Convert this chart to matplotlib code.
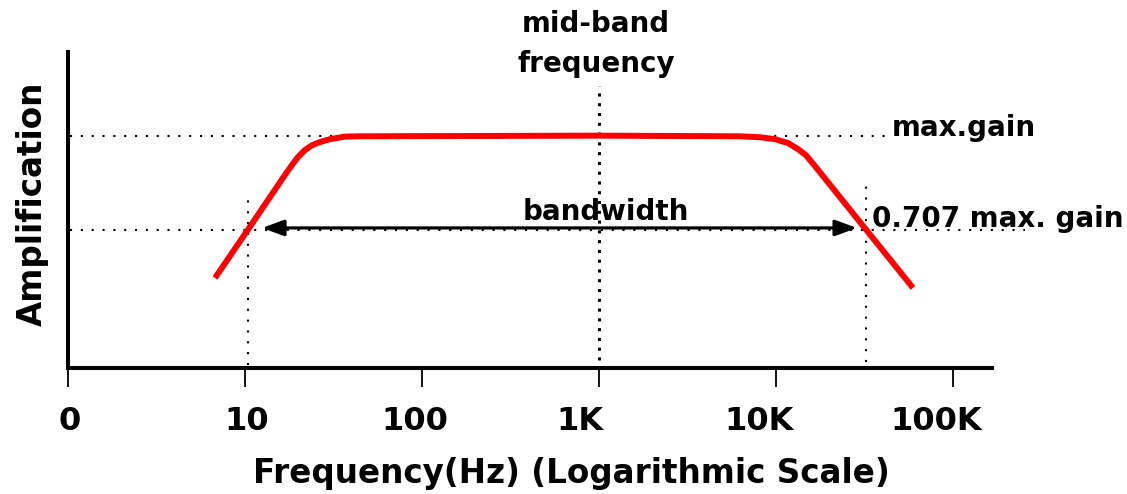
import numpy as np
import matplotlib.pyplot as plt
from matplotlib.ticker import NullLocator
from matplotlib.transforms import ScaledTranslation

# frequency response (Hz, gain relative to max)
freq_hz = [6.77, 10.4, 16.8, 18.4, 19.9, 21.8, 23.9, 26.5, 30.2, 36.7, 44.6,
           1000, 6262, 8122, 9864, 11690, 13310, 14770, 16610, 32250, 59430]
gain = [0.556, 0.707, 0.877, 0.908, 0.933, 0.955, 0.970, 0.980, 0.989, 0.997, 0.998,
        1.0, 0.998, 0.995, 0.989, 0.977, 0.958, 0.939, 0.905, 0.707, 0.525]

tick_freqs = [1, 10, 100, 1000, 10000, 100000]
tick_labels = ['0', '10', '100', '1K', '10K', '100K']
label_shift_px = [2, 2, -7, -19, -17, -17]

max_gain = 1.0
half_power = 0.707
mid_freq = 1000
low_cut = 10.4
high_cut = 32250

fig = plt.figure(figsize=(11.27, 4.94), dpi=100)
ax = fig.add_axes([68 / 1127, 126 / 494, 924 / 1127, 316 / 494])

ax.set_xscale('log')
ax.set_xlim(1, 166100)
ax.set_ylim(0.275, 1.261)

# guide lines
ax.plot([1.03, 44000], [max_gain, max_gain], color='black', lw=1.5,
        linestyle=(0, (1, 4.2)), clip_on=False)
ax.plot([1.03, 255000], [half_power, half_power], color='black', lw=1.5,
        linestyle=(0, (1, 4.2)), clip_on=False)
ax.plot([low_cut, low_cut], [0.285, 0.824], color='black', lw=1.5,
        linestyle=(0, (1, 4.2)))
ax.plot([high_cut, high_cut], [0.294, 0.861], color='black', lw=1.5,
        linestyle=(0, (1, 4.2)))
ax.plot([mid_freq, mid_freq], [0.300, 1.154], color='black', lw=2.2,
        linestyle=(0, (1, 2.2)))

# response curve
ax.plot(freq_hz, gain, color='#ff0000', lw=4.3, solid_capstyle='butt',
        solid_joinstyle='round')

# bandwidth arrow
ax.annotate('', xy=(28690, 0.712), xytext=(12.48, 0.712),
            arrowprops=dict(arrowstyle='<|-|>,head_length=0.6,head_width=0.22',
                            color='black', lw=2.3, mutation_scale=22,
                            shrinkA=0, shrinkB=0))

txt = dict(fontsize=20, fontweight='bold', color='black')
ax.text(1096, 0.737, 'bandwidth', ha='center', va='baseline', **txt)
ax.text(45200, 1.0, 'max.gain', ha='left', va='baseline', **txt)
ax.text(34800, 0.715, '0.707 max. gain', ha='left', va='baseline', **txt)
ax.text(962, 1.323, 'mid-band', ha='center', va='baseline', **txt)
ax.text(962, 1.198, 'frequency', ha='center', va='baseline', **txt)

# axes styling
for side in ['top', 'right']:
    ax.spines[side].set_visible(False)
for side in ['left', 'bottom']:
    ax.spines[side].set_linewidth(2.9)
    ax.spines[side].set_capstyle('projecting')

ax.set_yticks([])
ax.xaxis.set_minor_locator(NullLocator())
ax.set_xticks(tick_freqs)
ax.set_xticklabels(tick_labels, fontsize=23, fontweight='bold')
ax.tick_params(axis='x', direction='out', length=14, width=1.3, pad=13)
for lab, dx in zip(ax.get_xticklabels(), label_shift_px):
    lab.set_transform(lab.get_transform() + ScaledTranslation(dx / 100, 0, fig.dpi_scale_trans))

ax.set_xlabel('Frequency(Hz) (Logarithmic Scale)', fontsize=23.5, fontweight='bold')
ax.set_ylabel('Amplification', fontsize=23.5, fontweight='bold')
ax.xaxis.set_label_coords(0.545, -0.282)
ax.yaxis.set_label_coords(-0.021, 0.52)

fig.savefig('out.png', dpi=100)
